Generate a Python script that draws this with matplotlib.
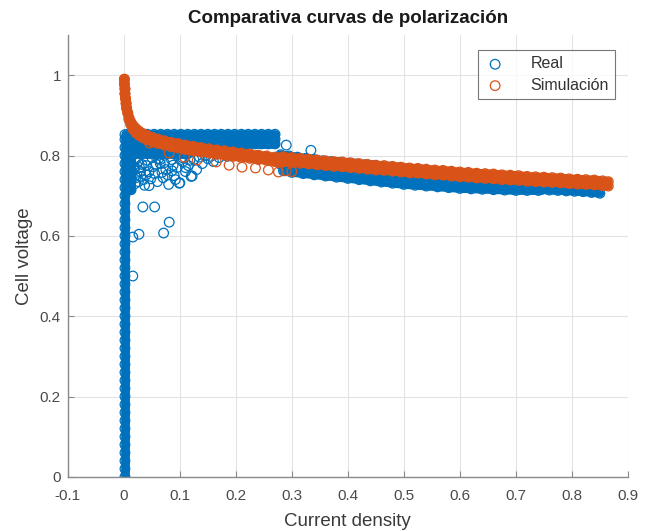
import matplotlib
matplotlib.use("Agg")
import matplotlib.pyplot as plt

plt.rcParams['font.family'] = ['Liberation Sans', 'DejaVu Sans']

# ---------------- data ----------------
# Real: vertical column at zero current
real_col_y = [0.00, 0.02, 0.04, 0.06, 0.08, 0.10, 0.12, 0.14, 0.16, 0.18, 0.20,
              0.22, 0.24, 0.26, 0.28, 0.30, 0.32, 0.34, 0.36, 0.38, 0.40, 0.42,
              0.44, 0.46, 0.48, 0.50, 0.52, 0.54, 0.56, 0.58, 0.60, 0.62, 0.64,
              0.66, 0.68, 0.70, 0.72, 0.74, 0.76, 0.78, 0.80, 0.82, 0.84, 0.852]
real_col_x = 0.002

# Real: second dense column just right of zero
real_col2_y = [0.715, 0.735, 0.755, 0.775, 0.795, 0.815, 0.835, 0.852]
real_col2_x = 0.013

# Real: dense block at low current (rows)
block_x = [0.006, 0.018, 0.030, 0.042, 0.054, 0.066, 0.078, 0.090, 0.102, 0.114,
           0.126, 0.138, 0.150, 0.162, 0.174, 0.186, 0.198, 0.210, 0.222, 0.234,
           0.246, 0.258, 0.270]
block_y_rows = [0.853, 0.841, 0.829, 0.817, 0.805]
block_row_end = [0.272, 0.272, 0.272, 0.22, 0.12]

# Real: scattered points below the block
real_sc_x = [0.008, 0.008, 0.008, 0.008, 0.008, 0.020, 0.020, 0.020, 0.020, 0.020,
             0.012, 0.018, 0.025, 0.030, 0.035, 0.040, 0.045, 0.050, 0.055, 0.060,
             0.065, 0.070, 0.075, 0.080, 0.085, 0.090, 0.095, 0.100, 0.105, 0.110,
             0.115, 0.120, 0.125, 0.130, 0.140, 0.150, 0.160, 0.037, 0.022, 0.015,
             0.034, 0.055, 0.081, 0.071, 0.027, 0.016, 0.016, 0.122, 0.099, 0.290,
             0.334, 0.060, 0.095, 0.175, 0.200, 0.230, 0.250, 0.028, 0.045, 0.065,
             0.024, 0.032, 0.042, 0.052, 0.062, 0.072, 0.088, 0.104, 0.118, 0.135,
             0.030, 0.048, 0.068, 0.086, 0.110, 0.026, 0.040, 0.058, 0.078, 0.092,
             0.145, 0.155, 0.170, 0.185]
real_sc_y = [0.720, 0.740, 0.760, 0.780, 0.800, 0.730, 0.750, 0.770, 0.790, 0.805,
             0.790, 0.770, 0.785, 0.760, 0.740, 0.775, 0.725, 0.795, 0.755, 0.735,
             0.780, 0.745, 0.765, 0.728, 0.790, 0.750, 0.770, 0.732, 0.785, 0.760,
             0.775, 0.748, 0.790, 0.765, 0.780, 0.792, 0.785, 0.726, 0.745, 0.760,
             0.672, 0.672, 0.634, 0.607, 0.604, 0.597, 0.500, 0.749, 0.731, 0.826,
             0.813, 0.805, 0.800, 0.805, 0.800, 0.795, 0.793, 0.770, 0.760, 0.790,
             0.795, 0.778, 0.788, 0.772, 0.792, 0.782, 0.776, 0.795, 0.788, 0.796,
             0.748, 0.742, 0.758, 0.762, 0.770, 0.735, 0.752, 0.778, 0.752, 0.740,
             0.800, 0.798, 0.795, 0.798]

# Real: tail following the simulated curve (rows across the band)
tail_x = [0.280, 0.295, 0.310, 0.325, 0.340, 0.355, 0.370, 0.385, 0.400, 0.415,
          0.430, 0.445, 0.460, 0.475, 0.490, 0.505, 0.520, 0.535, 0.550, 0.565,
          0.580, 0.595, 0.610, 0.625, 0.640, 0.655, 0.670, 0.685, 0.700, 0.715,
          0.730, 0.745, 0.760, 0.775, 0.790, 0.805, 0.820, 0.835, 0.850]
real_tail_up = [0.802, 0.799, 0.796, 0.793, 0.790, 0.787, 0.785, 0.783, 0.781, 0.779,
                0.777, 0.775, 0.773, 0.771, 0.769, 0.767, 0.765, 0.763, 0.761, 0.759,
                0.757, 0.756, 0.754, 0.752, 0.751, 0.749, 0.748, 0.746, 0.745, 0.743,
                0.742, 0.740, 0.739, 0.737, 0.736, 0.734, 0.733, 0.732, 0.731]
real_tail_lo = [0.778, 0.775, 0.772, 0.769, 0.766, 0.763, 0.760, 0.758, 0.755, 0.753,
                0.750, 0.748, 0.746, 0.744, 0.742, 0.740, 0.738, 0.736, 0.734, 0.732,
                0.730, 0.729, 0.727, 0.725, 0.724, 0.722, 0.721, 0.720, 0.718, 0.717,
                0.716, 0.715, 0.714, 0.713, 0.712, 0.711, 0.710, 0.708, 0.706]
tail_x3 = [0.285, 0.300, 0.320, 0.340, 0.360, 0.380, 0.400, 0.420, 0.440, 0.460,
           0.480, 0.500, 0.520, 0.540, 0.560, 0.580, 0.600, 0.620, 0.640, 0.660,
           0.680, 0.700, 0.720, 0.740]
real_tail_lo3 = [0.762, 0.758, 0.755, 0.752, 0.749, 0.746, 0.743, 0.740, 0.737, 0.734,
                 0.731, 0.728, 0.726, 0.724, 0.722, 0.720, 0.718, 0.717, 0.716, 0.715,
                 0.714, 0.713, 0.713, 0.713]

# Simulation: head of the curve
sim_head_x = [0.001, 0.001, 0.002, 0.002, 0.003, 0.004, 0.005, 0.007, 0.009, 0.012,
              0.016, 0.021, 0.027, 0.034, 0.042, 0.051, 0.061, 0.072, 0.084, 0.097,
              0.110, 0.124, 0.138, 0.152, 0.166, 0.180, 0.195, 0.210, 0.225, 0.240,
              0.255, 0.270]
sim_head_y = [0.990, 0.978, 0.966, 0.954, 0.942, 0.930, 0.918, 0.906, 0.895, 0.885,
              0.876, 0.868, 0.861, 0.855, 0.850, 0.845, 0.841, 0.837, 0.833, 0.830,
              0.826, 0.823, 0.820, 0.817, 0.814, 0.812, 0.809, 0.806, 0.804, 0.801,
              0.799, 0.796]
sim_head_y2 = [0.990, 0.978, 0.966, 0.954, 0.942, 0.930, 0.918, 0.906, 0.890, 0.878,
               0.866, 0.857, 0.850, 0.844, 0.839, 0.834, 0.830, 0.826, 0.822, 0.819,
               0.815, 0.812, 0.809, 0.806, 0.803, 0.801, 0.798, 0.795, 0.793, 0.790,
               0.788, 0.785]

# Simulation: tail of the curve
sim_tail_x = [0.285, 0.300, 0.315, 0.330, 0.345, 0.360, 0.375, 0.390, 0.405, 0.420,
              0.435, 0.450, 0.465, 0.480, 0.495, 0.510, 0.525, 0.540, 0.555, 0.570,
              0.585, 0.600, 0.615, 0.630, 0.645, 0.660, 0.675, 0.690, 0.705, 0.720,
              0.735, 0.750, 0.765, 0.780, 0.795, 0.810, 0.825, 0.840, 0.855, 0.865]
sim_tail_y = [0.797, 0.795, 0.793, 0.791, 0.789, 0.787, 0.785, 0.784, 0.782, 0.780,
              0.778, 0.776, 0.775, 0.773, 0.771, 0.769, 0.768, 0.766, 0.764, 0.763,
              0.761, 0.759, 0.758, 0.756, 0.755, 0.754, 0.752, 0.751, 0.750, 0.748,
              0.747, 0.746, 0.745, 0.744, 0.742, 0.741, 0.740, 0.739, 0.737, 0.735]
sim_tail_y2 = [0.785, 0.783, 0.781, 0.779, 0.777, 0.775, 0.773, 0.772, 0.770, 0.768,
               0.766, 0.764, 0.763, 0.761, 0.759, 0.757, 0.756, 0.754, 0.752, 0.751,
               0.749, 0.747, 0.746, 0.744, 0.743, 0.742, 0.740, 0.739, 0.738, 0.736,
               0.735, 0.734, 0.733, 0.732, 0.730, 0.729, 0.728, 0.727, 0.725, 0.724]

# Simulation: isolated points below the curve
sim_out_x = [0.046, 0.081, 0.108, 0.131, 0.165, 0.188, 0.211, 0.235, 0.258, 0.276,
             0.290, 0.300]
sim_out_y = [0.831, 0.806, 0.796, 0.789, 0.784, 0.776, 0.771, 0.769, 0.764, 0.759,
             0.762, 0.760]

# ---------------- build point sets ----------------
block_pts = [(xv, yv) for yv, xend in zip(block_y_rows, block_row_end)
             for xv in block_x if xv <= xend]

real_x = ([real_col_x] * len(real_col_y) + [real_col2_x] * len(real_col2_y)
          + [p[0] for p in block_pts] + real_sc_x + tail_x + tail_x + tail_x3)
real_y = (real_col_y + real_col2_y + [p[1] for p in block_pts] + real_sc_y
          + real_tail_up + real_tail_lo + real_tail_lo3)

sim_x = sim_head_x + sim_head_x + sim_tail_x + sim_tail_x + sim_out_x
sim_y = sim_head_y + sim_head_y2 + sim_tail_y + sim_tail_y2 + sim_out_y

BLUE = '#0072BD'
ORANGE = '#D95319'

fig = plt.figure(figsize=(6.46, 5.31), dpi=100)
ax = fig.add_axes([0.105, 0.102, 0.867, 0.832])

ms = 48
band_lw = 6.3
band_kw = dict(linewidth=band_lw, solid_capstyle='round', solid_joinstyle='round',
               label='_nolegend_')

# dense runs of Real points (overlapping circles -> solid band)
ax.plot([real_col_x] * len(real_col_y), real_col_y, color=BLUE, zorder=2, **band_kw)
ax.plot([real_col2_x] * len(real_col2_y), real_col2_y, color=BLUE, zorder=2, **band_kw)
for yv, xend in zip(block_y_rows, block_row_end):
    xs = [xv for xv in block_x if xv <= xend]
    ax.plot(xs, [yv] * len(xs), color=BLUE, zorder=2, **band_kw)
ax.plot(tail_x, real_tail_up, color=BLUE, zorder=2, **band_kw)
ax.plot(tail_x, real_tail_lo, color=BLUE, zorder=2, **band_kw)
ax.plot(tail_x3, real_tail_lo3, color=BLUE, zorder=2, **band_kw)

ax.scatter(real_x, real_y, s=ms, facecolors='none', edgecolors=BLUE,
           linewidths=0.9, label='Real', zorder=2)

# dense runs of simulated points
ax.plot(sim_head_x, sim_head_y, color=ORANGE, zorder=3, **band_kw)
ax.plot(sim_head_x, sim_head_y2, color=ORANGE, zorder=3, **band_kw)
ax.plot(sim_tail_x, sim_tail_y, color=ORANGE, zorder=3, **band_kw)
ax.plot(sim_tail_x, sim_tail_y2, color=ORANGE, zorder=3, **band_kw)
ax.plot([sim_head_x[-1], sim_tail_x[0]], [sim_head_y[-1], sim_tail_y[0]],
        color=ORANGE, zorder=3, **band_kw)
ax.plot([sim_head_x[-1], sim_tail_x[0]], [sim_head_y2[-1], sim_tail_y2[0]],
        color=ORANGE, zorder=3, **band_kw)

ax.scatter(sim_x, sim_y, s=ms, facecolors='none', edgecolors=ORANGE,
           linewidths=0.9, label='Simulación', zorder=3)

ax.set_xlim(-0.1, 0.9)
ax.set_ylim(0, 1.1)
ax.set_xticks([-0.1, 0, 0.1, 0.2, 0.3, 0.4, 0.5, 0.6, 0.7, 0.8, 0.9])
ax.set_xticklabels(['-0.1', '0', '0.1', '0.2', '0.3', '0.4', '0.5', '0.6', '0.7', '0.8', '0.9'])
ax.set_yticks([0, 0.2, 0.4, 0.6, 0.8, 1.0])
ax.set_yticklabels(['0', '0.2', '0.4', '0.6', '0.8', '1'])

ax.grid(True, color='#e3e3e3', linewidth=0.8)
ax.set_axisbelow(True)
for s in ['top', 'right']:
    ax.spines[s].set_visible(False)
for s in ['left', 'bottom']:
    ax.spines[s].set_color('#8a8a8a')
    ax.spines[s].set_linewidth(1.0)
ax.tick_params(direction='in', length=4, color='#8a8a8a', labelcolor='#4a4a4a',
               labelsize=11)
ax.tick_params(axis='x', pad=9)
ax.tick_params(axis='y', pad=5)

ax.set_title('Comparativa curvas de polarización', fontsize=13.5, fontweight='bold',
             color='#1a1a1a', pad=9)
ax.set_xlabel('Current density', fontsize=13.5, color='#3a3a3a', labelpad=7)
ax.set_ylabel('Cell voltage', fontsize=13.5, color='#3a3a3a', labelpad=5)

leg = ax.legend(loc='upper right', bbox_to_anchor=(0.977, 0.966), fontsize=11.5,
                frameon=True, fancybox=False, edgecolor='#555555',
                borderpad=0.4, handletextpad=1.5, handlelength=1.4, borderaxespad=0,
                labelspacing=0.4)
leg.get_frame().set_linewidth(0.8)
for t in leg.get_texts():
    t.set_color('#333333')

fig.savefig('out.png', dpi=100)
